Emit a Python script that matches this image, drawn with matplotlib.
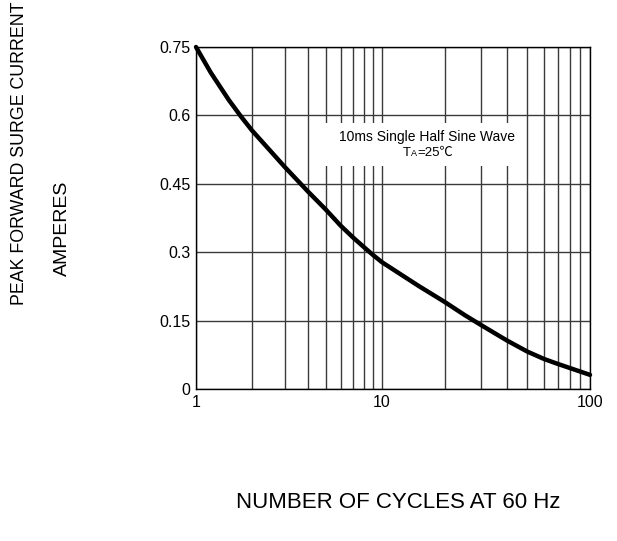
import numpy as np
import matplotlib
matplotlib.use("Agg")
from matplotlib import pyplot as plt
from matplotlib.patches import Rectangle
from matplotlib.offsetbox import TextArea, HPacker, AnnotationBbox
from matplotlib.ticker import FixedLocator, NullFormatter

plt.rcParams['font.family'] = ['Liberation Sans', 'DejaVu Sans', 'Noto Sans CJK SC']

# 读取的曲线数据
cycles = [1, 1.2, 1.5, 1.75, 2, 2.5, 3, 4, 5, 6, 7, 8, 9, 10,
          15, 20, 25, 30, 40, 50, 60, 70, 80, 100]
current = [0.75, 0.694, 0.634, 0.597, 0.567, 0.523, 0.487, 0.433, 0.393, 0.358,
           0.332, 0.311, 0.293, 0.278, 0.226, 0.191, 0.162, 0.140, 0.106, 0.082,
           0.066, 0.055, 0.046, 0.031]

y_ticks = [0, 0.15, 0.3, 0.45, 0.6, 0.75]
y_tick_labels = ["0", "0.15", "0.3", "0.45", "0.6", "0.75"]
x_ticks = [1, 10, 100]
x_tick_labels = ["1", "10", "100"]
x_minor = [2, 3, 4, 5, 6, 7, 8, 9, 20, 30, 40, 50, 60, 70, 80, 90]

# 原图两个十倍程宽度不一样（186px / 208px）
D1, D2 = 186.0, 208.0


def fwd(x):
    t = np.log10(np.clip(x, 1e-6, None))
    return np.where(t <= 1, t * D1, D1 + (t - 1) * D2)


def inv(u):
    return np.where(u <= D1, 10 ** (u / D1), 10 ** (1 + (u - D1) / D2))


fig = plt.figure(figsize=(6.17, 5.41), dpi=100)
ax = fig.add_axes([196 / 617, 1 - 389 / 541, 394 / 617, 342 / 541])

ax.set_xscale('function', functions=(fwd, inv))
ax.set_xlim(1, 100)
ax.set_ylim(0, 0.75)

ax.xaxis.set_major_locator(FixedLocator(x_ticks))
ax.set_xticklabels(x_tick_labels)
ax.xaxis.set_minor_locator(FixedLocator(x_minor))
ax.xaxis.set_minor_formatter(NullFormatter())
ax.set_yticks(y_ticks)
ax.set_yticklabels(y_tick_labels)
ax.tick_params(which='both', length=0, labelsize=11.5, colors='black', pad=4)

ax.grid(True, which='both', axis='x', color='#3a3a3a', linewidth=1.0, zorder=1)
ax.grid(True, which='major', axis='y', color='#3a3a3a', linewidth=1.0, zorder=1)
ax.set_axisbelow(True)
for s in ax.spines.values():
    s.set_linewidth(1.0)
    s.set_color('black')

ax.plot(cycles, current, color='black', linewidth=3.2, solid_capstyle='round',
        solid_joinstyle='round', zorder=5, clip_on=False)

# 说明文字的白底
ax.add_patch(Rectangle((0.327, 0.652), 0.495, 0.126, transform=ax.transAxes,
                       fc='white', ec='none', zorder=3))
ax.text(0.586, 0.737, "10ms Single Half Sine Wave", transform=ax.transAxes,
        ha='center', va='center', fontsize=10, zorder=4)
parts = [TextArea("T", textprops=dict(fontsize=9.5)),
         TextArea("A", textprops=dict(fontsize=6.5)),
         TextArea("=25℃", textprops=dict(fontsize=9.5,
                                          family=['Liberation Sans', 'Noto Sans CJK SC']))]
pack = HPacker(children=parts, align='baseline', pad=0, sep=0)
ab = AnnotationBbox(pack, (0.589, 0.690), xycoords='axes fraction', frameon=False,
                    box_alignment=(0.5, 0.5), zorder=4)
ax.add_artist(ab)

fig.text(20 / 617, 1 - 153 / 541, "PEAK FORWARD SURGE CURRENT", rotation=90,
         ha='center', va='center', fontsize=12.8)
fig.text(62 / 617, 1 - 228 / 541, "AMPERES", rotation=90,
         ha='center', va='center', fontsize=14)

fig.text(398 / 617, 1 - 502 / 541, "NUMBER OF CYCLES AT 60 Hz",
         ha='center', va='center', fontsize=16)

fig.savefig("out.png", dpi=100)
